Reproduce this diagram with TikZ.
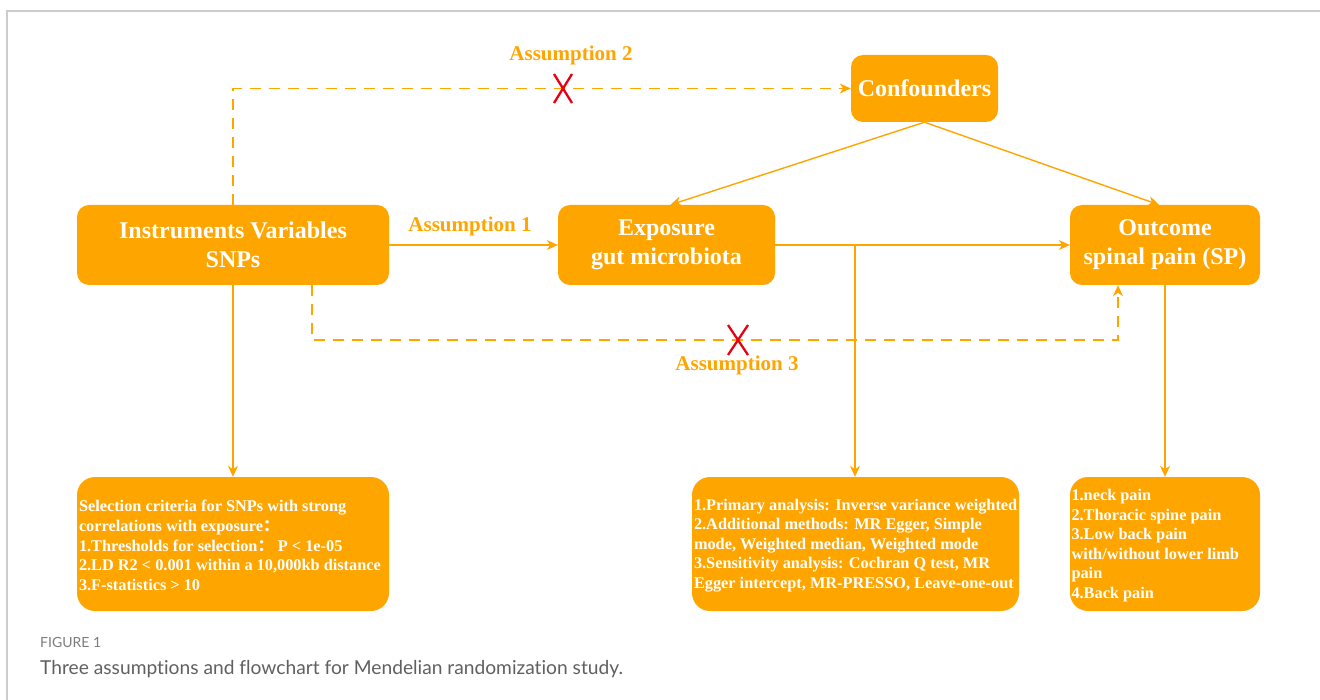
\documentclass[tikz,border=0pt]{standalone}
\usepackage{fontspec}
\setmainfont{Liberation Serif}
\newfontfamily\capfont[Ligatures=NoCommon]{Lato}
\newfontfamily\cjk{Noto Sans CJK SC}
\usetikzlibrary{arrows.meta}
\definecolor{org}{RGB}{255,165,0}
\definecolor{xred}{RGB}{232,0,18}
\definecolor{capgray}{RGB}{96,96,96}
\definecolor{figgray}{RGB}{125,125,125}
\begin{document}
\begin{tikzpicture}[x=1pt,y=-1pt,
  box/.style={fill=org, draw=none, rounded corners=12pt, inner sep=0pt, text=white,
    font=\fontsize{24}{29}\selectfont\bfseries, align=center},
  bigbox/.style={fill=org, draw=none, rounded corners=18pt, inner sep=0pt},
  listtxt/.style={text=white, font=\fontsize{16.3}{19.6}\selectfont\bfseries, align=left,
    inner sep=0pt, anchor=west},
  conn/.style={draw=org, line width=1.4pt, -{Stealth[length=11pt,width=10pt,inset=3.5pt]}},
  dconn/.style={conn, dash pattern=on 11pt off 8pt},
  asm/.style={text=org, font=\fontsize{21}{24}\selectfont\bfseries, inner sep=0pt},
  cross/.style={draw=xred, line width=2.3pt}
]
\useasboundingbox (0,0) rectangle (1320,700);
\fill[white] (0,0) rectangle (1320,700);
\draw[gray!40, line width=1.5pt] (7,700) -- (7,11) -- (1320,11);

% main boxes
\node[box, minimum width=312pt, minimum height=80pt] (iv) at (233,245) {Instruments Variables\\SNPs};
\node[box, minimum width=217pt, minimum height=80pt] (exp) at (666.5,245) {Exposure\\gut microbiota};
\node[box, minimum width=190pt, minimum height=80pt] (out) at (1165,245) {Outcome\\spinal pain (SP)};
\node[box, minimum width=147pt, minimum height=67pt] (conf) at (924.5,88.5) {Confounders};

% bottom boxes
\node[bigbox, minimum width=312pt, minimum height=134pt] (sel) at (233,544) {};
\node[bigbox, minimum width=327pt, minimum height=134pt] (ana) at (855.5,544) {};
\node[bigbox, minimum width=190pt, minimum height=134pt] (pain) at (1165,544) {};

\node[listtxt] (seltxt) at ([xshift=2pt,yshift=-1.5pt]sel.west) {Selection criteria for SNPs with strong\\correlations with exposure{\cjk ：}\\1.Thresholds for selection{\cjk ：} P < 1e-05\\2.LD R2 < 0.001 within a 10,000kb distance\\3.F-statistics > 10};
\node[listtxt] (anatxt) at ([xshift=2pt,yshift=-1.5pt]ana.west) {1.Primary analysis: Inverse variance weighted\\2.Additional methods: MR Egger, Simple\\mode, Weighted median, Weighted mode\\3.Sensitivity analysis: Cochran Q test, MR\\Egger intercept, MR-PRESSO, Leave-one-out};
\node[listtxt] (paintxt) at ([xshift=1.5pt,yshift=-1.5pt]pain.west) {1.neck pain\\2.Thoracic spine pain\\3.Low back pain\\with/without lower limb\\pain\\4.Back pain};

% connectors
\draw[conn] (iv.east) -- (exp.west);
\draw[conn] (exp.east) -- (out.west);
\draw[conn] (iv.south) -- (sel.north);
\draw[conn] (out.south) -- (pain.north);
\coordinate (br) at ([xshift=-0.5pt]ana.north |- exp.east);
\draw[conn] (br) -- ([xshift=-0.5pt]ana.north);
\draw[conn] (conf.south) -- ([xshift=4pt]exp.north);
\draw[conn] (conf.south) -- ([xshift=-6pt]out.north);

% dashed assumptions
\draw[dconn] (iv.north) |- (conf.west);
\coordinate (d3a) at ([xshift=79pt]iv.south);
\coordinate (d3b) at ([xshift=-47pt]out.south);
\draw[dconn] (d3a) -- ++(0,55) -| (d3b);

% labels
\node[asm] (a1) at (470,226) {Assumption 1};
\node[asm] (a2) at (571,55) {Assumption 2};
\node[asm] (a3) at (737,365) {Assumption 3};

% crosses
\draw[cross] (554,74) -- (572,103) (572,74) -- (554,103);
\draw[cross] (728,325) -- (748,355) (748,325) -- (728,355);

% caption
\node[anchor=west, inner sep=0pt, text=figgray, font=\capfont\fontsize{14}{16}\selectfont] (fig) at (40,642) {FIGURE 1};
\node[anchor=west, inner sep=0pt, text=capgray, font=\capfont\fontsize{19.2}{22}\selectfont] (cap) at (40,669) {Three assumptions and flowchart for Mendelian randomization study.};
\end{tikzpicture}
\end{document}
